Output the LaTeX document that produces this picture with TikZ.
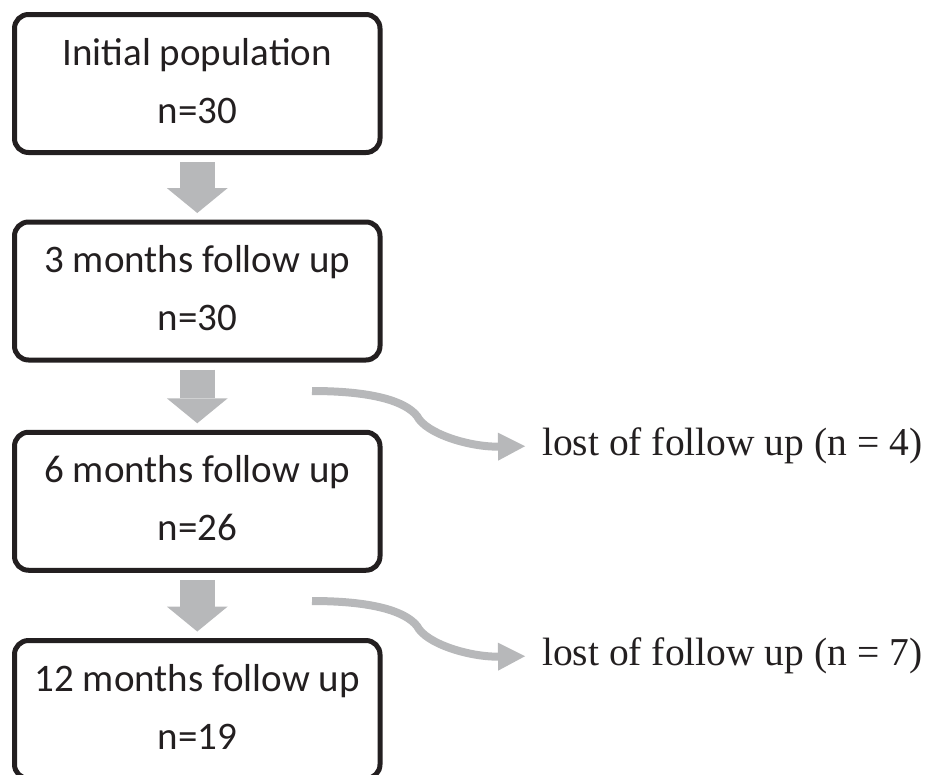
\documentclass[tikz,border=0pt]{standalone}
\usepackage{fontspec}
\setmainfont{Liberation Serif}
\newfontfamily\boxfont{Carlito}
\usetikzlibrary{arrows.meta}
\definecolor{arrowgray}{RGB}{183,184,186}
\definecolor{boxblack}{RGB}{35,31,32}
\begin{document}
\begin{tikzpicture}[x=1pt,y=-1pt,line join=round,
		box/.style={draw=boxblack,line width=5pt,rounded corners=14pt,minimum width=365.5pt,minimum height=138pt,outer sep=0pt,align=center,text depth=6pt,text=boxblack,font={\boxfont\fontsize{39}{58}\selectfont}},
		fatarrow/.style={draw=arrowgray,line width=35pt,-{Triangle[width=61pt,length=25pt,line width=0pt]},shorten <=9.5pt,shorten >=9pt},
		bendarrow/.style={draw=arrowgray,line width=8pt,-{Triangle[width=28pt,length=27pt,line width=0pt]},shorten >=17pt},
		lost/.style={anchor=west,inner sep=0pt,text=boxblack,font={\fontsize{39.5}{47}\selectfont}}]
	\useasboundingbox (0,0) rectangle (936,774);
	% boxes
	\node[box] (b1) at (197.25,83.5) {Initial population\\n=30};
	\node[box] (b2) at (197.25,291) {3 months follow up\\n=30};
	\node[box] (b3) at (197.25,501.25) {6 months follow up\\n=26};
	\node[box] (b4) at (197.25,709.5) {12 months follow up\\n=19};
	\draw[fatarrow] (b1) -- (b2);
	\draw[fatarrow] (b2) -- (b3);
	\draw[fatarrow] (b3) -- (b4);
	% losses
	\coordinate (s1) at (312,391);
	\node[lost] (l1) at (542,446) {lost of follow up (n = 4)};
	\draw[bendarrow] (s1) .. controls (372,391) and (405,401) .. (417,416) .. controls (426,434) and (470,447) .. (l1.west);
	\coordinate (s2) at (312,601);
	\node[lost] (l2) at (542,656) {lost of follow up (n = 7)};
	\draw[bendarrow] (s2) .. controls (372,601) and (405,611) .. (417,626) .. controls (426,644) and (470,657) .. (l2.west);
\end{tikzpicture}
\end{document}
